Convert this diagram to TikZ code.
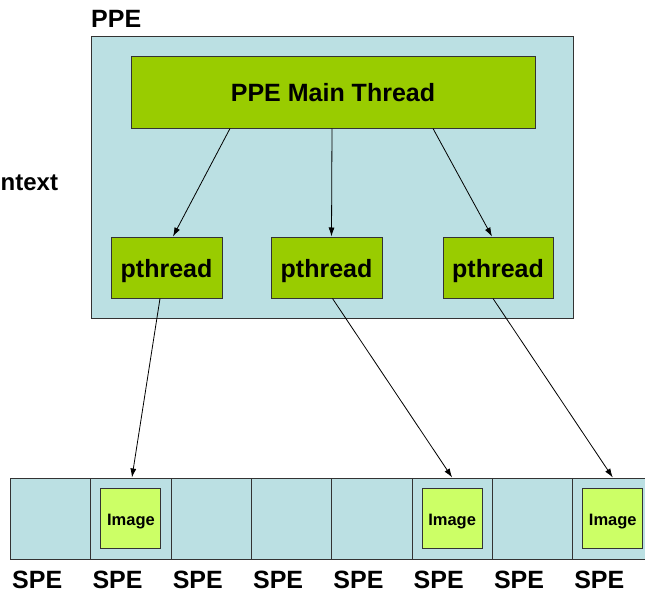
\documentclass[tikz,border=0pt]{standalone}
\usepackage{fontspec}
\setmainfont{Liberation Sans}
\usetikzlibrary{arrows.meta}
\definecolor{ppeblue}{HTML}{BBE0E3}
\definecolor{mgreen}{HTML}{99CC00}
\definecolor{imggreen}{HTML}{CCFF66}
\definecolor{edge}{HTML}{333333}
\begin{document}
\begin{tikzpicture}[x=1pt,y=-1pt,
  box/.style={draw=edge,line width=1pt,inner sep=0pt,anchor=center},
  bigtxt/.style={font=\fontsize{25}{28}\selectfont\bfseries,text depth=0pt},
  imgtxt/.style={font=\fontsize{16.5}{19}\selectfont\bfseries,text depth=0pt,text height=14pt},
  lbl/.style={inner sep=0pt,font=\fontsize{25}{28}\selectfont\bfseries},
  arr/.style={line width=0.8pt,-{Latex[length=9pt,width=6pt]}},
  cell/.style={box,fill=ppeblue,minimum width=80.3pt,minimum height=81pt},
  img/.style={box,fill=imggreen,minimum width=60pt,minimum height=60pt,imgtxt},
  pth/.style={box,fill=mgreen,minimum height=61pt,bigtxt,text height=20pt}
]
\useasboundingbox (0,0) rectangle (645,594);
\clip (0,0) rectangle (645,594);
% PPE box
\node[box,fill=ppeblue,minimum width=482pt,minimum height=281pt] (ppe) at (332,177.5) {};
\node[lbl,anchor=west] (ppelbl) at (91,19) {PPE};
\node[lbl,anchor=west,font=\fontsize{24}{28}\selectfont\bfseries] (ctx) at (0.5,183) {ntext};
\node[box,fill=mgreen,minimum width=404pt,minimum height=71pt,bigtxt,text height=17pt] (main) at (333,92.5) {PPE Main Thread};
\node[pth,minimum width=111pt] (p1) at (166.5,267.5) {pthread};
\node[pth,minimum width=111pt] (p2) at (326.5,267.5) {pthread};
\node[pth,minimum width=110pt] (p3) at (498,267.5) {pthread};
% SPE row
\foreach \i in {1,...,8}{
  \node[cell] (c\i) at ({10.5+80.3*(\i-0.5)},518.5) {};
  \node[lbl,anchor=west] (s\i) at ({12+80.3*(\i-1)},580) {SPE};
}
\node[img] (im1) at (c2.center) {Image};
\node[img] (im2) at (c6.center) {Image};
\node[img] (im3) at (c8.center) {Image};
% arrows
\draw[arr] ([xshift=-103pt]main.south) -- ([xshift=6.5pt]p1.north);
\draw[arr] ([xshift=-1pt]main.south) -- ([xshift=5pt]p2.north);
\draw[arr] ([xshift=100pt]main.south) -- ([xshift=-6pt]p3.north);
\draw[arr] ([xshift=-6.5pt]p1.south) -- ([xshift=1pt]c2.north);
\draw[arr] ([xshift=6pt]p2.south) -- (c6.north);
\draw[arr] ([xshift=-5pt]p3.south) -- (c8.north);
\end{tikzpicture}
\end{document}
